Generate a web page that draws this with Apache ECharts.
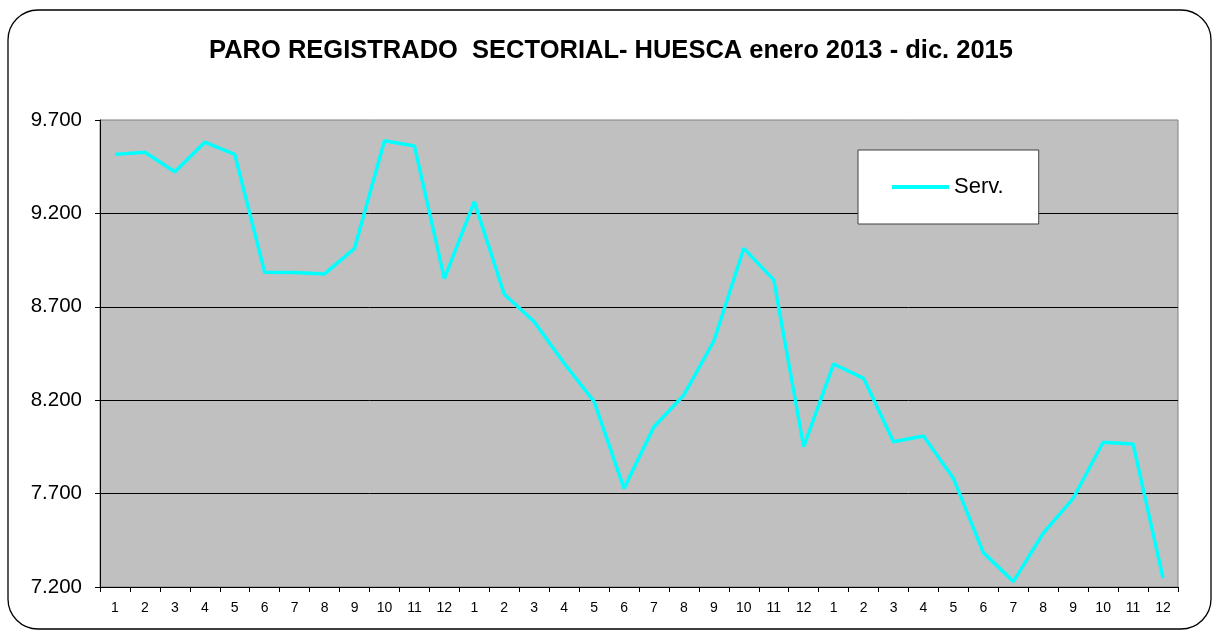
<!DOCTYPE html>
<html>
<head>
<meta charset="utf-8">
<script src="https://cdn.jsdelivr.net/npm/echarts@6/dist/echarts.min.js"></script>
<style>
html,body{margin:0;padding:0;background:#fff;}
#chart{width:1216px;height:632px;}
</style>
</head>
<body>
<div id="chart"></div>
<script>
var monthLabels = ['1','2','3','4','5','6','7','8','9','10','11','12'];
var years = ['2013','2014','2015'];
var serv2013 = [9516, 9527, 9423, 9581, 9516, 8885, 8883, 8876, 9013, 9589, 9561, 8851];
var serv2014 = [9263, 8767, 8620, 8398, 8192, 7728, 8058, 8228, 8517, 9013, 8844, 7951];
var serv2015 = [8394, 8317, 7978, 8008, 7782, 7384, 7229, 7488, 7675, 7975, 7966, 7247];
var yTicks = [7200, 7700, 8200, 8700, 9200, 9700];
var seriesName = 'Serv.';
var titleText = 'PARO REGISTRADO  SECTORIAL- HUESCA enero 2013 - dic. 2015';

var categories = [];
years.forEach(function(){ categories = categories.concat(monthLabels); });
var values = serv2013.concat(serv2014, serv2015);

function fmt(v){ return String(v).replace(/\B(?=(\d{3})+(?!\d))/g, '.'); }

var chart = echarts.init(document.getElementById('chart'), null, {renderer:'canvas'});
var FONT = '"Liberation Sans", Arial, sans-serif';
chart.setOption({
  animation: false,
  backgroundColor: '#ffffff',
  textStyle: {fontFamily: FONT},
  graphic: [{
    type: 'rect',
    shape: {x: 8, y: 10, width: 1203, height: 619, r: 30},
    style: {fill: 'none', stroke: '#000', lineWidth: 1.3},
    z: -1
  }],
  title: {
    text: titleText,
    left: 606,
    textAlign: 'center',
    top: 33,
    textStyle: {fontFamily: FONT, fontSize: 25.5, fontWeight: 'bold', color: '#000'}
  },
  legend: {
    data: [seriesName],
    left: 858,
    top: 150,
    padding: [26, 35, 26, 34],
    backgroundColor: '#ffffff',
    borderColor: '#404040',
    borderWidth: 1,
    icon: 'rect',
    itemWidth: 57,
    itemHeight: 4,
    itemGap: 0,
    textStyle: {fontFamily: FONT, fontSize: 22, color: '#000'}
  },
  grid: {
    left: 100, right: 38, top: 120, bottom: 45,
    show: true,
    backgroundColor: '#c0c0c0',
    borderColor: '#808080',
    borderWidth: 1,
    containLabel: false
  },
  xAxis: {
    type: 'category',
    data: categories,
    boundaryGap: true,
    axisLine: {show: true, lineStyle: {color: '#000', width: 1}},
    axisTick: {show: true, length: 5, lineStyle: {color: '#000'}},
    axisLabel: {interval: 0, margin: 14, fontSize: 14, color: '#000', fontFamily: FONT},
    splitLine: {show: false}
  },
  yAxis: {
    type: 'value',
    min: yTicks[0],
    max: yTicks[yTicks.length - 1],
    interval: yTicks[1] - yTicks[0],
    axisLine: {show: true, lineStyle: {color: '#000', width: 1}},
    axisTick: {show: true, length: 5, lineStyle: {color: '#000'}},
    axisLabel: {margin: 18, fontSize: 20.5, color: '#000', fontFamily: FONT, formatter: fmt},
    splitLine: {show: true, showMinLine: false, showMaxLine: false, lineStyle: {color: '#000', width: 1}}
  },
  series: [{
    name: seriesName,
    type: 'line',
    data: values,
    symbol: 'none',
    showSymbol: false,
    lineStyle: {color: '#00ffff', width: 3.5},
    itemStyle: {color: '#00ffff'}
  }]
});
</script>
</body>
</html>
